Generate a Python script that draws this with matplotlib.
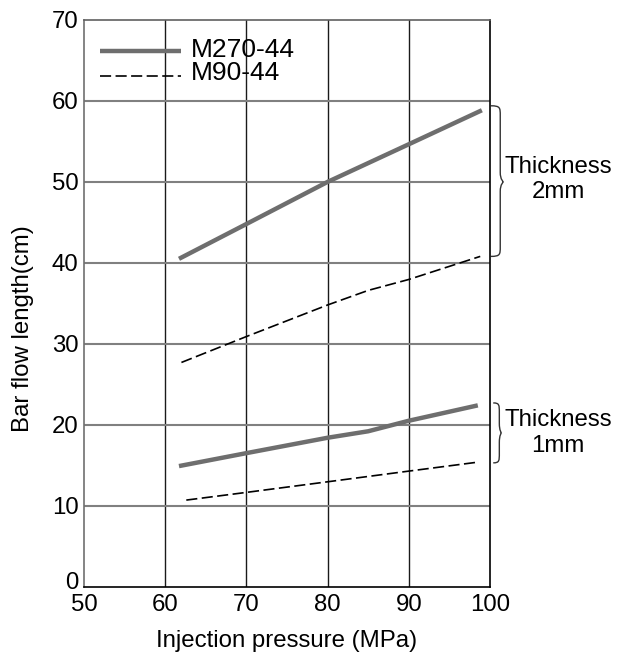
import matplotlib
matplotlib.use("Agg")
import matplotlib.pyplot as plt
from matplotlib.path import Path
from matplotlib.patches import PathPatch
from matplotlib.transforms import ScaledTranslation

plt.rcParams['font.family'] = ['Liberation Sans', 'DejaVu Sans']
plt.rcParams['lines.scale_dashes'] = False

# Data
x_m270_2mm = [61.7, 70, 80, 90, 99.0]
y_m270_2mm = [40.5, 44.8, 50.0, 54.65, 58.85]
x_m90_2mm = [62.0, 70, 80, 85, 90, 98.8]
y_m90_2mm = [27.7, 30.9, 34.8, 36.6, 37.95, 40.8]
x_m270_1mm = [61.7, 70, 80, 85, 90, 98.5]
y_m270_1mm = [14.9, 16.5, 18.4, 19.2, 20.5, 22.4]
x_m90_1mm = [62.6, 70, 80, 90, 98.3]
y_m90_1mm = [10.7, 11.65, 12.96, 14.28, 15.36]
xticks = [50, 60, 70, 80, 90, 100]
yticks = [0, 10, 20, 30, 40, 50, 60, 70]
series_labels = ['M270-44', 'M90-44']
thick_labels = ['Thickness\n2mm', 'Thickness\n1mm']

FS = 17.3
LFS = 19
fig = plt.figure(figsize=(6.23, 6.53), dpi=100)
ax = fig.add_axes([0.1348, 0.1015, 0.6517, 0.8679])
ax.set_xlim(50, 100)
ax.set_ylim(0, 70)
ax.set_xticks(xticks)
ax.set_yticks(yticks)
ax.tick_params(length=0, labelsize=FS)
ax.tick_params(axis='y', pad=4)
ax.tick_params(axis='x', pad=5)

# shift the "0" y tick label up a little, as in the reference
lab0 = ax.get_yticklabels()[0]
lab0.set_transform(lab0.get_transform() + ScaledTranslation(0, 6 / 100, fig.dpi_scale_trans))

for v in xticks[1:-1]:
    ax.axvline(v, color='#1a1a1a', lw=1.0, zorder=1)
for v in yticks[1:-1]:
    ax.axhline(v, color='#808080', lw=1.5, zorder=1)
ax.spines['left'].set_color('#707070')
ax.spines['top'].set_color('#606060')
ax.spines['bottom'].set_color('#000000')
ax.spines['right'].set_color('#000000')
for s in ax.spines.values():
    s.set_linewidth(1.2)

solid_kw = dict(color='#6e6e6e', lw=3.2, solid_capstyle='butt', zorder=3)
dash_kw = dict(color='black', lw=1.2, dashes=(8.0, 3.2), zorder=3)
ax.plot(x_m270_2mm, y_m270_2mm, **solid_kw)
ax.plot(x_m270_1mm, y_m270_1mm, **solid_kw)
ax.plot(x_m90_2mm, y_m90_2mm, **dash_kw)
ax.plot(x_m90_1mm, y_m90_1mm, **dash_kw)

# legend (drawn manually in axes fraction)
ax.plot([0.0394, 0.2389], [0.9453, 0.9453], transform=ax.transAxes, **solid_kw)
ax.plot([0.0394, 0.2389], [0.9012, 0.9012], transform=ax.transAxes, **dash_kw)
ax.text(0.2635, 0.9353, series_labels[0], transform=ax.transAxes, fontsize=LFS,
        ha='left', va='baseline', zorder=4)
ax.text(0.2635, 0.8941, series_labels[1], transform=ax.transAxes, fontsize=LFS,
        ha='left', va='baseline', zorder=4)

ax.set_xlabel('Injection pressure (MPa)', fontsize=FS, labelpad=10)
ax.set_ylabel('Bar flow length(cm)', fontsize=FS)
ax.yaxis.set_label_coords(-0.123, 0.455)


def brace(x0, ytop, ybot, ytip, w):
    c = w * 0.75
    r = 1.2
    verts = [(x0, ytop),
             (x0 + c, ytop), (x0 + c, ytop - r * 0.2), (x0 + c, ytop - r),
             (x0 + c, ytip + r),
             (x0 + c, ytip + r * 0.2), (x0 + w, ytip), (x0 + w, ytip),
             (x0 + w, ytip), (x0 + c, ytip - r * 0.2), (x0 + c, ytip - r),
             (x0 + c, ybot + r),
             (x0 + c, ybot + r * 0.2), (x0 + c, ybot), (x0, ybot)]
    codes = [Path.MOVETO,
             Path.CURVE4, Path.CURVE4, Path.CURVE4,
             Path.LINETO,
             Path.CURVE4, Path.CURVE4, Path.CURVE4,
             Path.CURVE4, Path.CURVE4, Path.CURVE4,
             Path.LINETO,
             Path.CURVE4, Path.CURVE4, Path.CURVE4]
    p = PathPatch(Path(verts, codes), fill=False, lw=1.0, edgecolor='#333333',
                  clip_on=False, transform=ax.transData)
    ax.add_patch(p)


brace(100.1, 59.4, 40.8, 50.0, 1.55)
brace(100.4, 22.7, 15.3, 19.0, 1.0)

ax.text(108.4, 50.3, thick_labels[0], fontsize=FS, ha='center', va='center',
        linespacing=1.2, clip_on=False)
ax.text(108.4, 19.0, thick_labels[1], fontsize=FS, ha='center', va='center',
        linespacing=1.2, clip_on=False)

fig.savefig('out.png', dpi=100)
